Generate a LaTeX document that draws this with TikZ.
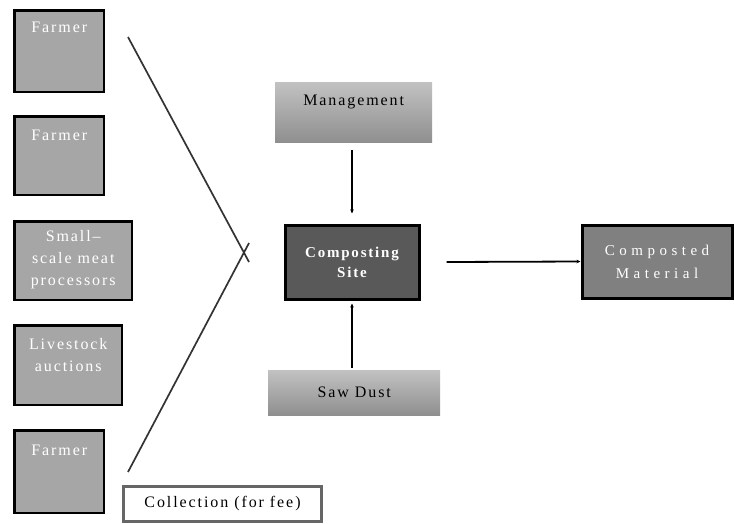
\documentclass[tikz,border=0pt]{standalone}
\usepackage{fontspec}
\setmainfont{Liberation Serif}[LetterSpace=12]
\usetikzlibrary{arrows.meta, calc}
\definecolor{boxgray}{HTML}{A6A6A6}
\definecolor{sitegray}{HTML}{595959}
\definecolor{matgray}{HTML}{808080}
\definecolor{collgray}{HTML}{666666}

\begin{document}
\begin{tikzpicture}[x=1pt, y=-1pt, font=\fontsize{16}{22}\selectfont]
% Styles
\tikzstyle{source} = [rectangle, anchor=north west, draw=black, line width=2.5pt, fill=boxgray]
\tikzstyle{intext} = [anchor=north, inner sep=0pt, text=white, align=center]
\tikzstyle{input} = [rectangle, anchor=north west, top color=black!24, bottom color=black!44, draw=none]
\tikzstyle{hub} = [rectangle, anchor=north west, draw=black, line width=3pt, text=white, align=center]
\tikzstyle{arrow} = [line width=1.8pt, -{Stealth[length=4pt, width=3.5pt]}]
\tikzstyle{feed} = [line width=1.7pt, black!80]

\useasboundingbox (0,0) rectangle (734,523);

% sources on the left
\node (farmer_a) [source, minimum width=89.5pt, minimum height=81.5pt, label={[intext, yshift=-13pt]north:Farmer}] at (13.25,9.25) {};
\node (farmer_b) [source, minimum width=89.5pt, minimum height=78.5pt, label={[intext, yshift=-15pt]north:Farmer}] at (13.25,115.25) {};
\node (processors) [source, minimum width=117.5pt, minimum height=78.5pt, label={[intext, yshift=-10pt]north:Small--\\scale meat\\processors}] at (13.25,220.25) {};
\node (auctions) [source, minimum width=107.5pt, minimum height=79.5pt, label={[intext, yshift=-14pt]north:Livestock\\auctions}] at (13.25,324.25) {};
\node (farmer_c) [source, minimum width=89.5pt, minimum height=82.5pt, label={[intext, yshift=-16pt]north:Farmer}] at (13.25,429.25) {};
\node (collection) [rectangle, anchor=north west, draw=collgray, line width=2.5pt, fill=white, minimum width=198pt, minimum height=35pt] at (122.25,485.25) {Collection (for fee)};

% gathering lines
\coordinate (top_start) at (128,37);
\coordinate (top_end) at (249,262);
\coordinate (bot_start) at (128,472);
\coordinate (bot_end) at (249,243);
\draw [feed] (top_start) -- (top_end);
\draw [feed] (bot_start) -- (bot_end);

% inputs and site
\node (management) [input, minimum width=157pt, minimum height=60pt, label={[anchor=north, inner sep=0pt, yshift=-13pt]north:Management}] at (275,82) {};
\node (site) [hub, fill=sitegray, minimum width=134pt, minimum height=74pt, font=\fontsize{15}{20}\selectfont\bfseries] at (283.5,223.5) {Composting\\Site};
\node (sawdust) [input, minimum width=172pt, minimum height=45pt] at (268,370) {Saw Dust};
\node (material) [hub, fill=matgray, minimum width=150pt, minimum height=73pt, font=\fontsize{15}{23}\selectfont\addfontfeature{LetterSpace=30}] at (580.5,223.5) {Composted\\Material};

\draw [arrow] (site.north |- management.south) ++(0,8) -- ($(site.north)+(0,-10)$);
\draw [arrow] (site.south |- sawdust.north) ++(0,-2) -- ($(site.south)+(0,3)$);
\draw [arrow] ($(site.east)+(26,0)$) -- (material.west);

\end{tikzpicture}
\end{document}
